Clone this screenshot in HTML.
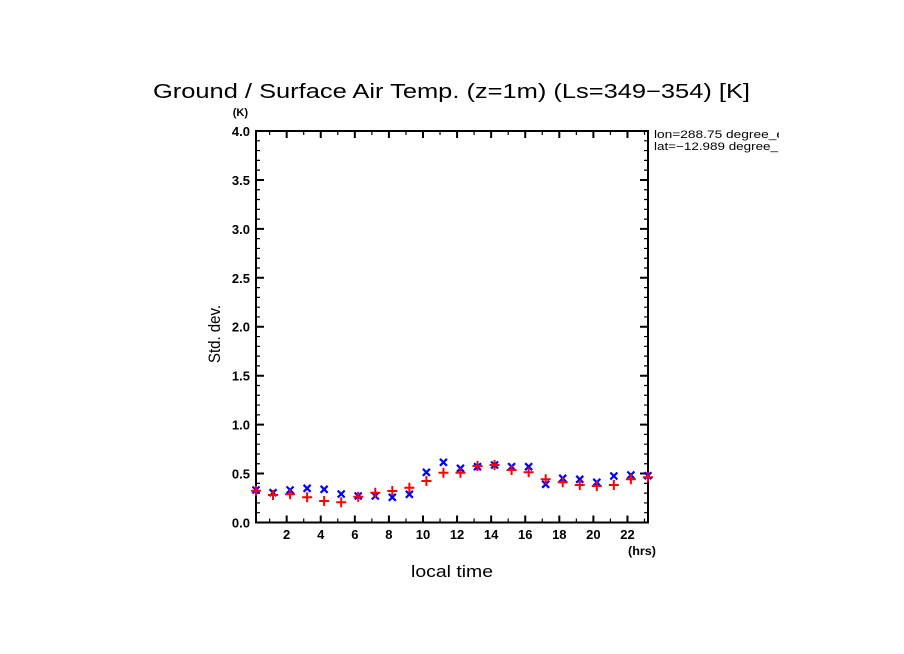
<!DOCTYPE html>
<html><head><meta charset="utf-8"><style>
html,body{margin:0;padding:0;background:#fff;}
svg{display:block;}
text{font-family:"Liberation Sans",sans-serif;fill:#000;}
.tk{font-weight:bold;font-size:13px;}
</style></head><body>
<svg width="904" height="654" viewBox="0 0 904 654" xmlns="http://www.w3.org/2000/svg">
<defs>
<clipPath id="cl"><rect x="0" y="0" width="779" height="654"/></clipPath>
<path id="pr" d="M-5,0h10M0,-5v10" stroke="#ff0000" stroke-width="2" fill="none"/>
<path id="pb" d="M-3.5,-3.5l7,7M-3.5,3.5l7,-7" stroke="#0000ff" stroke-width="2.2" fill="none"/>
</defs>
<rect width="904" height="654" fill="#fff"/>
<text x="153" y="98" font-size="20" textLength="597" lengthAdjust="spacingAndGlyphs">Ground / Surface Air Temp. (z=1m) (Ls=349−354) [K]</text>
<text x="248" y="116" font-size="11" font-weight="bold" text-anchor="end">(K)</text>
<rect x="256" y="131" width="392" height="391.5" fill="none" stroke="#000" stroke-width="2"/>
<path stroke="#000" stroke-width="1.2" fill="none" d="
M256,512.71h4M256,502.93h4M256,493.14h4M256,483.35h4
M256,463.78h4M256,453.99h4M256,444.2h4M256,434.41h4
M256,414.84h4M256,405.05h4M256,395.26h4M256,385.48h4
M256,365.9h4M256,356.11h4M256,346.33h4M256,336.54h4
M256,316.96h4M256,307.18h4M256,297.39h4M256,287.6h4
M256,268.03h4M256,258.24h4M256,248.45h4M256,238.66h4
M256,219.09h4M256,209.3h4M256,199.51h4M256,189.73h4
M256,170.15h4M256,160.36h4M256,150.58h4M256,140.79h4
M648,512.71h-4M648,502.93h-4M648,493.14h-4M648,483.35h-4
M648,463.78h-4M648,453.99h-4M648,444.2h-4M648,434.41h-4
M648,414.84h-4M648,405.05h-4M648,395.26h-4M648,385.48h-4
M648,365.9h-4M648,356.11h-4M648,346.33h-4M648,336.54h-4
M648,316.96h-4M648,307.18h-4M648,297.39h-4M648,287.6h-4
M648,268.03h-4M648,258.24h-4M648,248.45h-4M648,238.66h-4
M648,219.09h-4M648,209.3h-4M648,199.51h-4M648,189.73h-4
M648,170.15h-4M648,160.36h-4M648,150.58h-4M648,140.79h-4
"/>
<path stroke="#000" stroke-width="2" fill="none" d="
M256,473.56h8M256,424.63h8M256,375.69h8M256,326.75h8M256,277.81h8M256,228.88h8M256,179.94h8
M648,473.56h-8M648,424.63h-8M648,375.69h-8M648,326.75h-8M648,277.81h-8M648,228.88h-8M648,179.94h-8
"/>
<path stroke="#000" stroke-width="1.2" fill="none" d="
M269.63,522.5v-4M303.71,522.5v-4M337.79,522.5v-4M371.87,522.5v-4M405.95,522.5v-4M440.03,522.5v-4
M474.11,522.5v-4M508.19,522.5v-4M542.27,522.5v-4M576.35,522.5v-4M610.43,522.5v-4M644.51,522.5v-4
M269.63,131v4M303.71,131v4M337.79,131v4M371.87,131v4M405.95,131v4M440.03,131v4
M474.11,131v4M508.19,131v4M542.27,131v4M576.35,131v4M610.43,131v4M644.51,131v4
"/>
<path stroke="#000" stroke-width="2" fill="none" d="
M286.67,522.5v-7M320.75,522.5v-7M354.83,522.5v-7M388.91,522.5v-7M422.99,522.5v-7M457.07,522.5v-7
M491.15,522.5v-7M525.23,522.5v-7M559.31,522.5v-7M593.39,522.5v-7M627.47,522.5v-7
M286.67,131v7M320.75,131v7M354.83,131v7M388.91,131v7M422.99,131v7M457.07,131v7
M491.15,131v7M525.23,131v7M559.31,131v7M593.39,131v7M627.47,131v7
"/>
<g text-anchor="end">
<text x="250" y="527.5" class="tk">0.0</text>
<text x="250" y="478.5" class="tk">0.5</text>
<text x="250" y="429.6" class="tk">1.0</text>
<text x="250" y="380.7" class="tk">1.5</text>
<text x="250" y="331.7" class="tk">2.0</text>
<text x="250" y="282.8" class="tk">2.5</text>
<text x="250" y="233.9" class="tk">3.0</text>
<text x="250" y="184.9" class="tk">3.5</text>
<text x="250" y="136" class="tk">4.0</text>
</g>
<g text-anchor="middle">
<text x="286.67" y="539" class="tk">2</text>
<text x="320.75" y="539" class="tk">4</text>
<text x="354.83" y="539" class="tk">6</text>
<text x="388.91" y="539" class="tk">8</text>
<text x="422.99" y="539" class="tk">10</text>
<text x="457.07" y="539" class="tk">12</text>
<text x="491.15" y="539" class="tk">14</text>
<text x="525.23" y="539" class="tk">16</text>
<text x="559.31" y="539" class="tk">18</text>
<text x="593.39" y="539" class="tk">20</text>
<text x="627.47" y="539" class="tk">22</text>
</g>
<text x="628" y="555" font-size="12" font-weight="bold" textLength="28" lengthAdjust="spacingAndGlyphs">(hrs)</text>
<text x="411" y="577" font-size="17" textLength="82" lengthAdjust="spacingAndGlyphs">local time</text>
<text transform="translate(220,363) rotate(-90)" x="0" y="0" font-size="17" textLength="58" lengthAdjust="spacingAndGlyphs">Std. dev.</text>
<g clip-path="url(#cl)">
<text x="654" y="138" font-size="11" textLength="130" lengthAdjust="spacingAndGlyphs">lon=288.75 degree_e</text>
<text x="654" y="150" font-size="11" textLength="124" lengthAdjust="spacingAndGlyphs">lat=−12.989 degree_</text>
</g>
<g>
<use href="#pb" x="256" y="490"/>
<use href="#pb" x="273.04" y="492.7"/>
<use href="#pb" x="290.08" y="490"/>
<use href="#pb" x="307.12" y="488.3"/>
<use href="#pb" x="324.16" y="489.3"/>
<use href="#pb" x="341.2" y="494"/>
<use href="#pb" x="358.24" y="496"/>
<use href="#pb" x="375.28" y="496"/>
<use href="#pb" x="392.32" y="497.3"/>
<use href="#pb" x="409.36" y="494.3"/>
<use href="#pb" x="426.4" y="472.3"/>
<use href="#pb" x="443.44" y="462.3"/>
<use href="#pb" x="460.48" y="468.3"/>
<use href="#pb" x="477.52" y="466.7"/>
<use href="#pb" x="494.56" y="465"/>
<use href="#pb" x="511.6" y="466.7"/>
<use href="#pb" x="528.64" y="466.7"/>
<use href="#pb" x="545.68" y="484.3"/>
<use href="#pb" x="562.72" y="478.3"/>
<use href="#pb" x="579.76" y="479.3"/>
<use href="#pb" x="596.8" y="482.3"/>
<use href="#pb" x="613.84" y="476"/>
<use href="#pb" x="630.88" y="475"/>
<use href="#pb" x="647.92" y="475.7"/>
</g>
<g>
<use href="#pr" x="256" y="490.7"/>
<use href="#pr" x="273.04" y="495"/>
<use href="#pr" x="290.08" y="494.3"/>
<use href="#pr" x="307.12" y="497.3"/>
<use href="#pr" x="324.16" y="501"/>
<use href="#pr" x="341.2" y="502.3"/>
<use href="#pr" x="358.24" y="496.7"/>
<use href="#pr" x="375.28" y="492.7"/>
<use href="#pr" x="392.32" y="491"/>
<use href="#pr" x="409.36" y="487.7"/>
<use href="#pr" x="426.4" y="481"/>
<use href="#pr" x="443.44" y="472.7"/>
<use href="#pr" x="460.48" y="472.7"/>
<use href="#pr" x="477.52" y="466"/>
<use href="#pr" x="494.56" y="465"/>
<use href="#pr" x="511.6" y="470"/>
<use href="#pr" x="528.64" y="472.3"/>
<use href="#pr" x="545.68" y="479.3"/>
<use href="#pr" x="562.72" y="482.3"/>
<use href="#pr" x="579.76" y="485"/>
<use href="#pr" x="596.8" y="486"/>
<use href="#pr" x="613.84" y="485"/>
<use href="#pr" x="630.88" y="479.3"/>
<use href="#pr" x="647.92" y="477.3"/>
</g>
</svg>
</body></html>
